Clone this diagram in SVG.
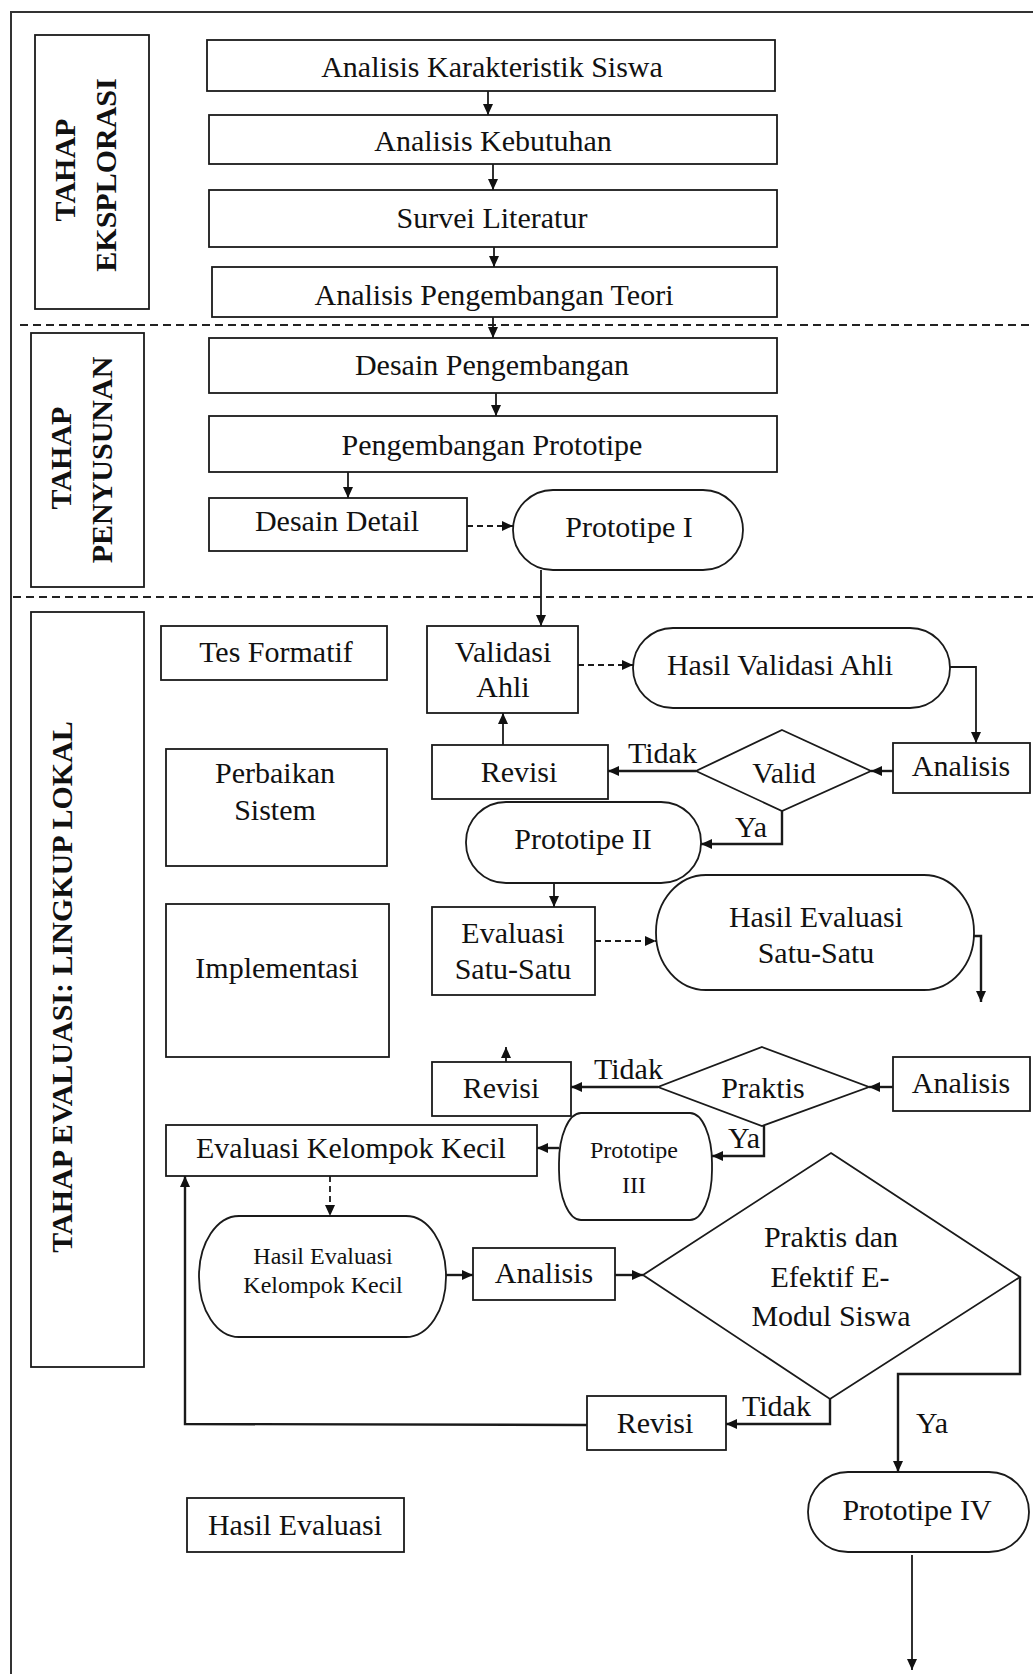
<svg xmlns="http://www.w3.org/2000/svg" width="1033" height="1674" viewBox="0 0 1033 1674">
<style>
.bx{fill:#fff;stroke:#1a1a1a;stroke-width:1.8}
.t{font-family:"Liberation Serif","Times New Roman",serif;font-size:30px;fill:#111;text-anchor:middle}
.tl{font-family:"Liberation Serif","Times New Roman",serif;font-size:30px;fill:#111;text-anchor:start}
.ts{font-size:24px}
.b{font-weight:bold}
.c{fill:none;stroke:#1a1a1a;stroke-width:1.8}
.k{stroke-width:2.4}
.d{stroke-dasharray:6 4}
.sep{fill:none;stroke:#222;stroke-width:1.8;stroke-dasharray:8 5}
.frame{fill:none;stroke:#333;stroke-width:2}
</style>
<defs>
<marker id="ah" viewBox="0 0 11 10" refX="11" refY="5" markerWidth="11" markerHeight="10" markerUnits="userSpaceOnUse" orient="auto">
<path d="M0,0 L11,5 L0,10 z" fill="#111"/>
</marker>
<clipPath id="clipTeori"><rect x="212" y="267" width="565" height="50"/></clipPath>
</defs>

<g id="frame">
<path class="frame" d="M1033,12 L11,12 L11,1674"/>
<path class="sep" d="M20,325 L1033,325"/>
<path class="sep" d="M13,597 L1033,597"/>
</g>

<g id="phase-eksplorasi">
<rect class="bx" x="35" y="35" width="114" height="274"/>
<text class="t b" transform="translate(75,170) rotate(-90)">TAHAP</text>
<text class="t b" transform="translate(116,175) rotate(-90)">EKSPLORASI</text>
</g>
<g id="phase-penyusunan">
<rect class="bx" x="31" y="333" width="113" height="254"/>
<text class="t b" transform="translate(71,458) rotate(-90)">TAHAP</text>
<text class="t b" transform="translate(112,460) rotate(-90)">PENYUSUNAN</text>
</g>
<g id="phase-evaluasi">
<rect class="bx" x="31" y="612" width="113" height="755"/>
<text class="t b" transform="translate(72,987) rotate(-90)">TAHAP EVALUASI: LINGKUP LOKAL</text>
</g>

<g id="n-karakteristik"><rect class="bx" x="207" y="40" width="568" height="51"/><text class="t" x="492" y="77">Analisis Karakteristik Siswa</text></g>
<g id="n-kebutuhan"><rect class="bx" x="209" y="115" width="568" height="49"/><text class="t" x="493" y="151">Analisis Kebutuhan</text></g>
<g id="n-survei"><rect class="bx" x="209" y="190" width="568" height="57"/><text class="t" x="492" y="228">Survei Literatur</text></g>
<g id="n-teori"><rect class="bx" x="212" y="267" width="565" height="50"/><text class="t" x="494" y="305" clip-path="url(#clipTeori)">Analisis Pengembangan Teori</text></g>

<g id="n-desain-pengembangan"><rect class="bx" x="209" y="338" width="568" height="55"/><text class="t" x="492" y="375">Desain Pengembangan</text></g>
<g id="n-pengembangan-prototipe"><rect class="bx" x="209" y="416" width="568" height="56"/><text class="t" x="492" y="455">Pengembangan Prototipe</text></g>
<g id="n-desain-detail"><rect class="bx" x="209" y="498" width="258" height="53"/><text class="t" x="337" y="531">Desain Detail</text></g>
<g id="n-prototipe1"><rect class="bx" x="513" y="490" width="230" height="80" rx="40"/><text class="t" x="629" y="537">Prototipe I</text></g>

<g id="n-tes-formatif"><rect class="bx" x="161" y="626" width="226" height="54"/><text class="t" x="276" y="662">Tes Formatif</text></g>
<g id="n-perbaikan"><rect class="bx" x="166" y="749" width="221" height="117"/><text class="t" x="275" y="783">Perbaikan</text><text class="t" x="275" y="820">Sistem</text></g>
<g id="n-implementasi"><rect class="bx" x="166" y="904" width="223" height="153"/><text class="t" x="277" y="978">Implementasi</text></g>

<g id="n-validasi"><rect class="bx" x="427" y="626" width="151" height="87"/><text class="t" x="503" y="662">Validasi</text><text class="t" x="503" y="697">Ahli</text></g>
<g id="n-hasil-validasi"><rect class="bx" x="633" y="628" width="317" height="80" rx="40"/><text class="t" x="780" y="675">Hasil Validasi Ahli</text></g>
<g id="n-analisis1"><rect class="bx" x="893" y="743" width="137" height="50"/><text class="t" x="961" y="776">Analisis</text></g>
<g id="n-valid"><polygon class="bx" points="782,730 871,771 782,811 696,771"/><text class="t" x="784" y="783">Valid</text></g>
<g id="n-revisi1"><rect class="bx" x="432" y="745" width="176" height="54"/><text class="t" x="519" y="782">Revisi</text></g>
<g id="n-prototipe2"><rect class="bx" x="466" y="802" width="235" height="81" rx="40"/><text class="t" x="583" y="849">Prototipe II</text></g>

<g id="n-eval-satu"><rect class="bx" x="432" y="907" width="163" height="88"/><text class="t" x="513" y="943">Evaluasi</text><text class="t" x="513" y="979">Satu-Satu</text></g>
<g id="n-hasil-eval-satu"><rect class="bx" x="656" y="875" width="318" height="115" rx="50" ry="57"/><text class="t" x="816" y="927">Hasil Evaluasi</text><text class="t" x="816" y="963">Satu-Satu</text></g>
<g id="n-revisi2"><rect class="bx" x="432" y="1062" width="139" height="54"/><text class="t" x="501" y="1098">Revisi</text></g>
<g id="n-praktis"><polygon class="bx" points="762,1047 869,1087 762,1126 658,1087"/><text class="t" x="763" y="1098">Praktis</text></g>
<g id="n-analisis2"><rect class="bx" x="893" y="1057" width="137" height="54"/><text class="t" x="961" y="1093">Analisis</text></g>
<g id="n-prototipe3"><rect class="bx" x="559" y="1113" width="153" height="107" rx="22" ry="50"/><text class="t ts" x="634" y="1158">Prototipe</text><text class="t ts" x="634" y="1193">III</text></g>
<g id="n-eval-kelompok"><rect class="bx" x="166" y="1125" width="371" height="51"/><text class="t" x="351" y="1158">Evaluasi Kelompok Kecil</text></g>
<g id="n-hasil-eval-kelompok"><rect class="bx" x="199" y="1216" width="247" height="121" rx="40" ry="60"/><text class="t ts" x="323" y="1264">Hasil Evaluasi</text><text class="t ts" x="323" y="1293">Kelompok Kecil</text></g>
<g id="n-analisis3"><rect class="bx" x="473" y="1248" width="142" height="52"/><text class="t" x="544" y="1283">Analisis</text></g>
<g id="n-praktis-efektif"><polygon class="bx" points="831,1153 1020,1277 830,1399 643,1275"/><text class="t" x="831" y="1247">Praktis dan</text><text class="t" x="830" y="1287">Efektif E-</text><text class="t" x="831" y="1326">Modul Siswa</text></g>
<g id="n-revisi3"><rect class="bx" x="587" y="1396" width="139" height="54"/><text class="t" x="655" y="1433">Revisi</text></g>
<g id="n-prototipe4"><rect class="bx" x="808" y="1472" width="221" height="80" rx="40"/><text class="t" x="917" y="1520">Prototipe IV</text></g>
<g id="n-hasil-evaluasi"><rect class="bx" x="187" y="1498" width="217" height="54"/><text class="t" x="295" y="1535">Hasil Evaluasi</text></g>

<g id="connectors">
<path class="c" marker-end="url(#ah)" d="M488,91 L488,115"/>
<path class="c" marker-end="url(#ah)" d="M493,164 L493,190"/>
<path class="c" marker-end="url(#ah)" d="M494,247 L494,267"/>
<path class="c" marker-end="url(#ah)" d="M493,317 L493,338"/>
<path class="c" marker-end="url(#ah)" d="M496,393 L496,416"/>
<path class="c" marker-end="url(#ah)" d="M348,472 L348,498"/>
<path class="c d" marker-end="url(#ah)" d="M467,526 L513,526"/>
<path class="c" marker-end="url(#ah)" d="M541,570 L541,626"/>
<path class="c d" marker-end="url(#ah)" d="M578,665 L633,665"/>
<path class="c" marker-end="url(#ah)" d="M950,667 L976,667 L976,743"/>
<path class="c k" marker-end="url(#ah)" d="M893,771 L871,771"/>
<path class="c k" marker-end="url(#ah)" d="M696,771 L608,771"/>
<path class="c" marker-end="url(#ah)" d="M503,745 L503,713"/>
<path class="c k" marker-end="url(#ah)" d="M782,811 L782,844 L701,844"/>
<path class="c" marker-end="url(#ah)" d="M554,883 L554,907"/>
<path class="c d" marker-end="url(#ah)" d="M595,941 L656,941"/>
<path class="c k" marker-end="url(#ah)" d="M974,936 L981,936 L981,1002"/>
<path class="c" marker-end="url(#ah)" d="M506,1062 L506,1047"/>
<path class="c k" marker-end="url(#ah)" d="M893,1087 L869,1087"/>
<path class="c k" marker-end="url(#ah)" d="M658,1087 L571,1087"/>
<path class="c k" marker-end="url(#ah)" d="M764,1126 L764,1156 L712,1156"/>
<path class="c k" marker-end="url(#ah)" d="M559,1148 L537,1148"/>
<path class="c d" marker-end="url(#ah)" d="M330,1176 L330,1216"/>
<path class="c k" marker-end="url(#ah)" d="M446,1275 L473,1275"/>
<path class="c k" marker-end="url(#ah)" d="M615,1275 L643,1275"/>
<path class="c k" marker-end="url(#ah)" d="M830,1399 L830,1424 L726,1424"/>
<path class="c k" marker-end="url(#ah)" d="M587,1425 L185,1424 L185,1176"/>
<path class="c k" marker-end="url(#ah)" d="M1020,1277 L1020,1374 L898,1374 L898,1472"/>
<path class="c" marker-end="url(#ah)" d="M912,1555 L912,1670"/>
<text class="tl" x="628" y="763">Tidak</text>
<text class="tl" x="735" y="837">Ya</text>
<text class="tl" x="594" y="1079">Tidak</text>
<text class="tl" x="728" y="1148">Ya</text>
<text class="tl" x="742" y="1416">Tidak</text>
<text class="tl" x="916" y="1433">Ya</text>
</g>
</svg>
